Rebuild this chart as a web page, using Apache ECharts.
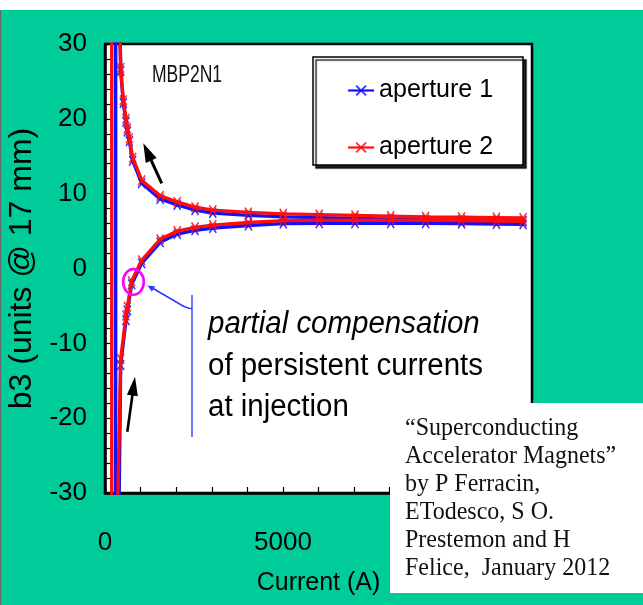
<!DOCTYPE html>
<html>
<head>
<meta charset="utf-8">
<script src="https://cdn.jsdelivr.net/npm/echarts@6/dist/echarts.min.js"></script>
<style>
  html, body { margin: 0; padding: 0; background: #ffffff; }
  #chart { width: 643px; height: 605px; }
</style>
</head>
<body>
<div id="chart"></div>
<script>
// b3 hysteresis loop of MBP2N1, both apertures (units @ 17 mm vs current in A)
const rampUpCurrent   = [441, 590, 628, 750, 1030, 1550, 2030, 2530, 3030, 4030, 5010, 6020, 7025, 8030, 9010, 10020, 11000, 11750];
const rampDownCurrent = [11750, 11000, 10020, 9010, 8030, 7025, 6020, 5010, 4030, 3030, 2530, 2030, 1550, 1030, 778, 684, 628, 590, 515, 441];

const ap1RampUp   = [-12.9, -6.9, -5.6, -2.1, 0.7, 3.5, 4.6, 5.1, 5.4, 5.75, 6.0, 6.05, 6.05, 6.05, 6.05, 6.0, 5.95, 5.9];
const ap1RampDown = [6.35, 6.4, 6.45, 6.5, 6.6, 6.7, 6.8, 6.9, 7.1, 7.4, 7.8, 8.5, 9.3, 11.4, 14.4, 17.0, 18.3, 19.6, 22.1, 26.4];
const ap2RampUp   = [-12.1, -6.3, -5.1, -1.7, 1.1, 3.9, 5.0, 5.5, 5.8, 6.15, 6.4, 6.45, 6.45, 6.45, 6.45, 6.4, 6.35, 6.3];
const ap2RampDown = [6.75, 6.8, 6.85, 6.9, 7.0, 7.1, 7.2, 7.3, 7.5, 7.8, 8.2, 8.9, 9.7, 11.8, 14.8, 17.4, 18.7, 20.0, 22.5, 26.8];

// injection current of each aperture and the off-scale b3 reached there
const injectionCurrent = [300, 190];
const injectionB3Low   = [-70, -70];
const injectionB3High  = [70, 80];

const seriesNames = ['aperture 1', 'aperture 2'];
const seriesColors = ['#1010ff', '#ff0d0d'];

const xTicks = [0, 5000, 10000];
const circledPoint = [800, -1.8];

function loop(k, up, down) {
  const pts = [[injectionCurrent[k], injectionB3Low[k]]];
  rampUpCurrent.forEach((c, i) => pts.push([c, up[i]]));
  rampDownCurrent.forEach((c, i) => pts.push([c, down[i]]));
  pts.push([injectionCurrent[k], injectionB3High[k]]);
  pts.push([injectionCurrent[k], injectionB3Low[k]]);
  return pts;
}

const crossSymbol = 'path://M0,1.2L1.2,0L5,3.8L8.8,0L10,1.2L6.2,5L10,8.8L8.8,10L5,6.2L1.2,10L0,8.8L3.8,5Z';
const sans = '"Liberation Sans", Arial, sans-serif';

const chart = echarts.init(document.getElementById('chart'));

function makeSeries(k, data) {
  return {
    type: 'line',
    name: seriesNames[k],
    data: data,
    color: seriesColors[k],
    symbol: crossSymbol,
    symbolSize: [8, 11],
    showAllSymbol: true,
    clip: true,
    smooth: false,
    lineStyle: { width: 3.4, color: seriesColors[k] },
    itemStyle: { color: seriesColors[k], opacity: 0.85 },
    emphasis: { disabled: true },
    z: 2 + k
  };
}

chart.setOption({
  animation: false,
  backgroundColor: '#00cc99',
  grid: {
    left: 105, top: 44, right: 111, bottom: 112,
    containLabel: false, outerBoundsMode: 'none',
    show: true, backgroundColor: '#ffffff', borderColor: '#000000', borderWidth: 2.5
  },
  legend: {
    data: seriesNames,
    orient: 'vertical',
    left: 347, top: 78,
    padding: 0,
    itemWidth: 26, itemHeight: 14, itemGap: 32, itemTextGap: 6,
    lineStyle: { width: 2.2 },
    textStyle: { fontFamily: sans, fontSize: 25, color: '#000' },
    z: 6
  },
  xAxis: {
    type: 'value', min: 0, max: 12000, interval: 1000,
    name: 'Current (A)', nameLocation: 'middle', nameGap: 78,
    nameTextStyle: { fontFamily: sans, fontSize: 25, color: '#000' },
    axisLine: { show: true, onZero: false, lineStyle: { color: '#000', width: 2.5 } },
    axisTick: { show: true, inside: true, length: 6, lineStyle: { color: '#000', width: 1.2 } },
    splitLine: { show: false },
    axisLabel: {
      margin: 37, fontFamily: sans, fontSize: 26, color: '#000',
      formatter: v => (xTicks.indexOf(v) >= 0 ? String(v) : '')
    }
  },
  yAxis: {
    type: 'value', min: -30, max: 30, interval: 10,
    name: 'b3 (units @ 17 mm)', nameLocation: 'middle', nameGap: 59,
    nameTextStyle: { fontFamily: sans, fontSize: 32, color: '#000' },
    axisLine: { show: true, onZero: false, lineStyle: { color: '#000', width: 2.5 } },
    axisTick: { show: true, inside: true, length: 6, lineStyle: { color: '#000', width: 1.2 } },
    minorTick: { show: true, splitNumber: 5, length: 6, lineStyle: { color: '#000', width: 1.2 } },
    splitLine: { show: false },
    axisLabel: { margin: 18, fontFamily: sans, fontSize: 26, color: '#000' }
  },
  series: [
    makeSeries(0, loop(0, ap1RampUp, ap1RampDown)),
    makeSeries(1, loop(1, ap2RampUp, ap2RampDown))
  ]
});

// ---- annotations ----
function arrow(tail, tip, headLen, headHalf, width, color, z) {
  const dx = tip[0] - tail[0], dy = tip[1] - tail[1];
  const len = Math.hypot(dx, dy);
  const ux = dx / len, uy = dy / len;
  const bx = tip[0] - ux * headLen, by = tip[1] - uy * headLen;
  return [
    { type: 'line', z: z, shape: { x1: tail[0], y1: tail[1], x2: bx + ux * 2, y2: by + uy * 2 },
      style: { stroke: color, lineWidth: width } },
    { type: 'polygon', z: z, shape: { points: [tip, [bx - uy * headHalf, by + ux * headHalf], [bx + uy * headHalf, by - ux * headHalf]] },
      style: { fill: color } }
  ];
}

const circ = chart.convertToPixel({ gridIndex: 0 }, circledPoint);
const calloutTip = [circ[0] + 14, circ[1] + 3.5];

const citation = [
  '\u201cSuperconducting',
  'Accelerator Magnets\u201d',
  'by P Ferracin,',
  'ETodesco, S O.',
  'Prestemon and H',
  'Felice,  January 2012'
].join('\n');

const elements = [
  { type: 'rect', z: 0, silent: true, shape: { x: 0, y: 0, width: 643, height: 10 }, style: { fill: '#ffffff' } },
  { type: 'rect', z: 0, silent: true, shape: { x: 0, y: 10, width: 1.2, height: 595 }, style: { fill: '#666666' } },
  // legend frame
  { type: 'rect', z: 5, shape: { x: 313, y: 57, width: 210, height: 108 },
    style: { fill: '#ffffff', stroke: '#000000', lineWidth: 1.5, shadowColor: 'rgba(0,0,0,0.85)', shadowOffsetX: 3, shadowOffsetY: 3, shadowBlur: 1 } },
  { type: 'text', z: 10, x: 152, y: 75, scaleX: 0.73,
    style: { text: 'MBP2N1', font: '24px ' + sans, fill: '#111', verticalAlign: 'middle', textVerticalAlign: 'middle' } },
  // circled point
  { type: 'ellipse', z: 10, shape: { cx: circ[0], cy: circ[1], rx: 10.3, ry: 12.8 },
    style: { fill: 'none', stroke: '#ff00ff', lineWidth: 2.6 } },
  // callout bracket
  { type: 'polyline', z: 10, shape: { points: [[calloutTip[0] + 4, calloutTip[1] + 2], [184, 306.5], [189, 308.2], [192, 308.5]] },
    style: { stroke: '#2f3cff', lineWidth: 1.4, fill: 'none' } },
  { type: 'line', z: 10, shape: { x1: 192, y1: 295, x2: 192, y2: 437 }, style: { stroke: '#2f3cff', lineWidth: 1.4 } },
  { type: 'text', z: 10, x: 208, y: 324.3, scaleX: 0.95,
    style: { text: 'partial compensation', font: 'italic 31px ' + sans, fill: '#000', verticalAlign: 'middle', textVerticalAlign: 'middle' } },
  { type: 'text', z: 10, x: 208, y: 366, scaleX: 0.95,
    style: { text: 'of persistent currents', font: '31px ' + sans, fill: '#000', verticalAlign: 'middle', textVerticalAlign: 'middle' } },
  { type: 'text', z: 10, x: 208, y: 407.6, scaleX: 0.95,
    style: { text: 'at injection', font: '31px ' + sans, fill: '#000', verticalAlign: 'middle', textVerticalAlign: 'middle' } },
  // citation box
  { type: 'rect', z: 50, shape: { x: 390, y: 403, width: 253, height: 190 }, style: { fill: '#ffffff' } },
  { type: 'text', z: 51, x: 405, y: 414.3, scaleX: 0.96,
    style: { text: citation, font: '25px "Liberation Serif", "Times New Roman", serif', lineHeight: 28, fill: '#111', verticalAlign: 'top', textVerticalAlign: 'top' } }
]
  .concat(arrow([161.7, 183.3], [143.3, 143.3], 19, 6, 3, '#000', 10))
  .concat(arrow([127.3, 431.7], [135, 376.7], 19, 5.5, 2.6, '#000', 10))
  .concat(arrow([184, 306.5], calloutTip, 7, 3.2, 1.4, '#2f3cff', 10));

chart.setOption({ graphic: { elements: elements } });
</script>
</body>
</html>
